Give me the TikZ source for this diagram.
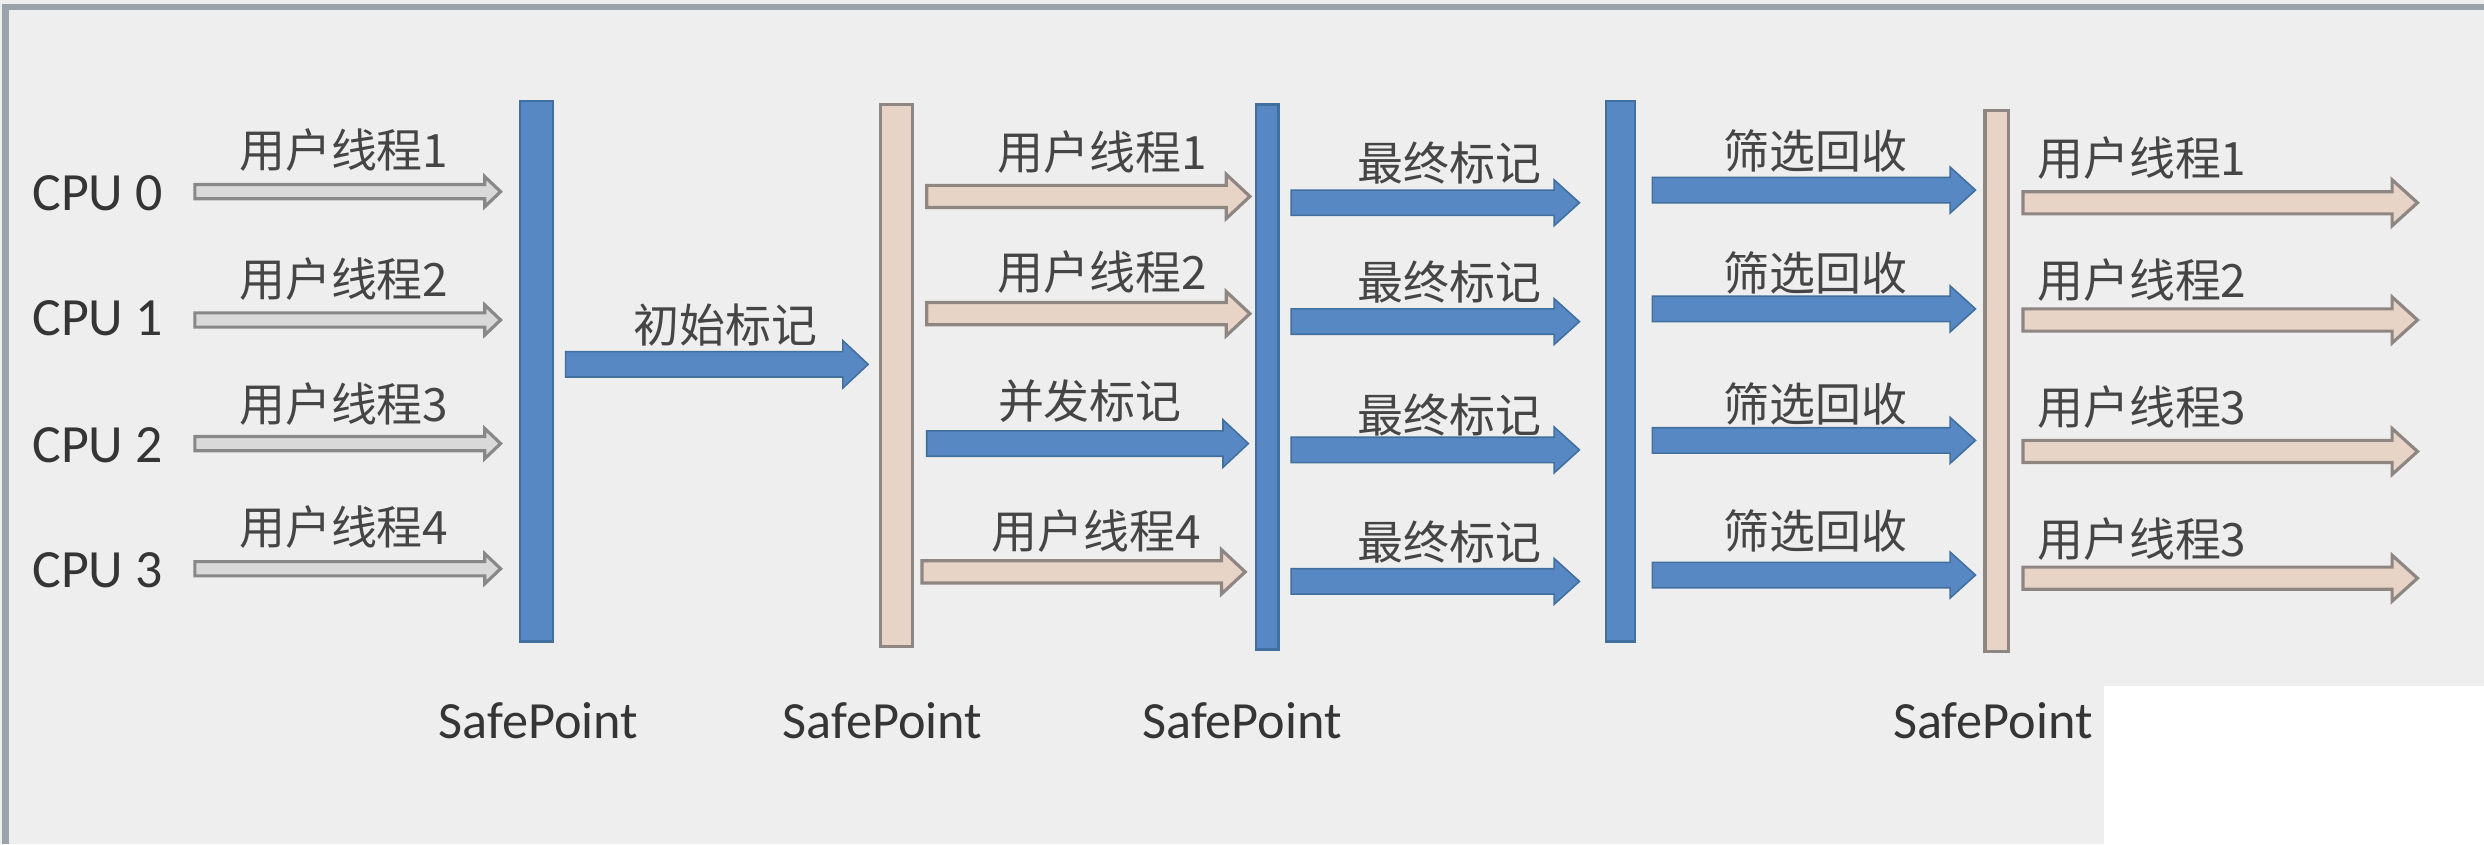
\documentclass[tikz,border=0pt]{standalone}
\usepackage{fontspec}
\setmainfont{Carlito}
\newfontfamily\cjk{Noto Sans CJK SC}
\usetikzlibrary{calc}
\definecolor{bgc}{HTML}{EEEEEF}
\definecolor{framec}{HTML}{9AA3AA}
\definecolor{barblue}{HTML}{5888C4}
\definecolor{blueedge}{HTML}{41709F}
\definecolor{beige}{HTML}{E8D4C7}
\definecolor{beigeedge}{HTML}{8E8683}
\definecolor{arrgray}{HTML}{D9D9D9}
\definecolor{grayedge}{HTML}{888888}
\definecolor{txt}{HTML}{353535}
\definecolor{cjktxt}{HTML}{454545}
\tikzset{
  bluebar/.style={fill=barblue, draw=blueedge, line width=0.7pt},
  beigebar/.style={fill=beige, draw=beigeedge, line width=1pt},
  grayarr/.style={fill=arrgray, draw=grayedge, line width=1pt, line join=miter},
  bluearr/.style={fill=barblue, draw=blueedge, line width=0.5pt, line join=miter},
  beigearr/.style={fill=beige, draw=beigeedge, line width=1pt, line join=miter},
  cpu/.style={font=\fontsize{17}{20}\selectfont, text=txt, inner sep=0pt, anchor=west},
  sp/.style={font=\fontsize{16.5}{20}\selectfont, text=txt, inner sep=0pt},
  lbl/.style={font=\cjk\fontsize{14.5}{17}\selectfont, text=cjktxt, inner sep=0pt},
}
% #1 style, #2 start, #3 end, #4 shaft half width, #5 head half width, #6 head length
\newcommand{\fatarrow}[6]{%
  \draw[#1] ($(#2)+(0,-#4)$) -- ($(#3)+(-#6,-#4)$) -- ($(#3)+(-#6,-#5)$) -- (#3)
    -- ($(#3)+(-#6,#5)$) -- ($(#3)+(-#6,#4)$) -- ($(#2)+(0,#4)$) -- cycle;}
\begin{document}
\begin{tikzpicture}[x=0.5pt,y=-0.5pt]
\useasboundingbox (0,0) rectangle (1568,533);
\fill[bgc] (0,0) rectangle (1568,533);
\fill[white] (1328,433) rectangle (1568,533);
\draw[framec, line width=2pt] (3.5,533) -- (3.5,4.5) -- (1568,4.5);

% bars
\draw[bluebar] (328,64) rectangle (349,405);
\draw[beigebar] (556,66) rectangle (576,408);
\draw[bluebar] (793,66) rectangle (807,410);
\draw[bluebar] (1014,64) rectangle (1032,405);
\draw[beigebar] (1253,70) rectangle (1268,411);

% CPU labels
\foreach \i/\y in {0/122,1/201,2/281,3/360}
  \node[cpu] (cpu\i) at (20,\y) {CPU \i};

% column 1: user threads
\foreach \i/\y/\ly in {1/121/95,2/202/176,3/280/255,4/359/333}{
  \coordinate (ga\i) at (123,\y);
  \coordinate (gb\i) at (316,\y);
  \fatarrow{grayarr}{ga\i}{gb\i}{4.5}{9.5}{10}
  \node[lbl] (gl\i) at (217,\ly) {用户线程\i};
}

% initial mark
\coordinate (ia) at (357,230);
\coordinate (ib) at (548,230);
\fatarrow{bluearr}{ia}{ib}{8}{15}{16}
\node[lbl] (il) at (458,205) {初始标记};

% column 2
\coordinate (c2a1) at (585,124); \coordinate (c2b1) at (789,124);
\fatarrow{beigearr}{c2a1}{c2b1}{7}{14}{15}
\node[lbl] (c2l1) at (696,96) {用户线程1};
\coordinate (c2a2) at (585,198); \coordinate (c2b2) at (789,198);
\fatarrow{beigearr}{c2a2}{c2b2}{7}{14}{15}
\node[lbl] (c2l2) at (696,172) {用户线程2};
\coordinate (c2a3) at (585,280); \coordinate (c2b3) at (788,280);
\fatarrow{bluearr}{c2a3}{c2b3}{8}{15}{16}
\node[lbl] (c2l3) at (688,253) {并发标记};
\coordinate (c2a4) at (582,361); \coordinate (c2b4) at (786,361);
\fatarrow{beigearr}{c2a4}{c2b4}{7}{14}{15}
\node[lbl] (c2l4) at (692,335) {用户线程4};

% column 3: final mark
\foreach \i/\y/\ly in {1/128/103,2/203/178,3/284/262,4/367/342}{
  \coordinate (fa\i) at (815,\y);
  \coordinate (fb\i) at (997,\y);
  \fatarrow{bluearr}{fa\i}{fb\i}{8}{14.5}{16}
  \node[lbl] (fl\i) at (915,\ly) {最终标记};
}

% column 4: cleanup
\foreach \i/\y/\ly in {1/120/95,2/195/172,3/278/255,4/363/335}{
  \coordinate (sa\i) at (1043,\y);
  \coordinate (sb\i) at (1247,\y);
  \fatarrow{bluearr}{sa\i}{sb\i}{8}{14.5}{16}
  \node[lbl] (sl\i) at (1146,\ly) {筛选回收};
}

% column 5: user threads
\foreach \i/\y/\ly/\t in {1/128/100/1,2/202/177/2,3/285/257/3,4/365/340/3}{
  \coordinate (ua\i) at (1277,\y);
  \coordinate (ub\i) at (1526,\y);
  \fatarrow{beigearr}{ua\i}{ub\i}{7}{14.5}{16}
  \node[lbl] (ul\i) at (1352,\ly) {用户线程\t};
}

% SafePoint labels
\node[sp] (sp1) at (340,455) {SafePoint};
\node[sp] (sp2) at (557,455) {SafePoint};
\node[sp] (sp3) at (784,455) {SafePoint};
\node[sp] (sp4) at (1258,455) {SafePoint};
\end{tikzpicture}
\end{document}
